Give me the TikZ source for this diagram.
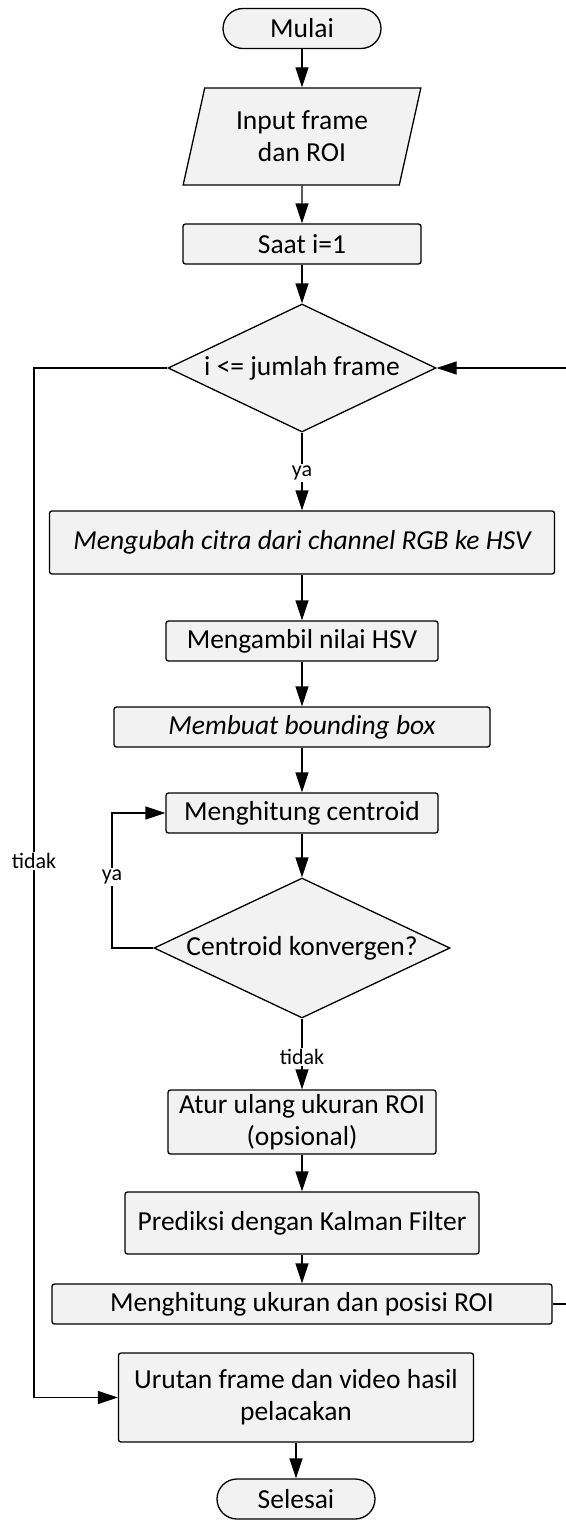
\documentclass[tikz,border=0pt]{standalone}
\usepackage{fontspec}
\setmainfont{Carlito}
\usetikzlibrary{shapes.geometric,arrows.meta}
\definecolor{boxfill}{HTML}{F2F2F2}
\tikzset{
  base/.style={draw, fill=boxfill, line width=1.3pt, inner sep=0pt, align=center},
  proc/.style={base, rounded corners=2.5pt},
  term/.style={base, rounded corners=20pt, minimum width=158pt, minimum height=40pt},
  io/.style={base, trapezium, trapezium left angle=74, trapezium right angle=106,
    trapezium stretches=true, minimum width=238pt, minimum height=97pt},
  dec/.style={base, diamond, shape aspect=2.1},
  arr/.style={line width=1.3pt, -{Triangle[length=20pt,width=13pt]}},
  lbl/.style={fill=white, inner sep=1.5pt, font=\fontsize{22}{26}\selectfont},
}
\begin{document}
\begin{tikzpicture}[x=1pt, y=-1pt, font=\fontsize{27.5}{32}\selectfont]
\useasboundingbox (0,0) rectangle (565,1520);

% main column
\node[term] (mulai) at (302,28.5) {Mulai};
\node[io] (input) at (302,136.5) {Input frame\\dan ROI};
\node[proc, minimum width=238pt, minimum height=40pt] (saat) at (302,244) {Saat i=1};
\node[dec, minimum width=268pt, minimum height=128pt] (cek) at (302,368) {i <= jumlah frame};
\node[proc, minimum width=505pt, minimum height=63pt] (hsv) at (302,542.5) {\itshape Mengubah citra dari channel RGB ke HSV};
\node[proc, minimum width=272pt, minimum height=40pt] (nilai) at (302,641) {Mengambil nilai HSV};
\node[proc, minimum width=376pt, minimum height=40pt] (bbox) at (302,727) {\itshape Membuat bounding box};
\node[proc, minimum width=272pt, minimum height=40pt] (cent) at (302,813) {Menghitung centroid};
\node[dec, minimum width=296pt, minimum height=140pt] (konv) at (302,948) {Centroid konvergen?};
\node[proc, minimum width=268pt, minimum height=64pt] (atur) at (302,1122) {Atur ulang ukuran ROI\\(opsional)};
\node[proc, minimum width=354pt, minimum height=62pt] (kalman) at (302,1223) {Prediksi dengan Kalman Filter};
\node[proc, minimum width=500pt, minimum height=40pt] (roi) at (302,1304) {Menghitung ukuran dan posisi ROI};
\node[proc, minimum width=355pt, minimum height=89pt] (hasil) at (296,1397.5) {Urutan frame dan video hasil\\pelacakan};
\node[term] (selesai) at (296,1499) {Selesai};

% loop corners
\coordinate (kiri) at (34,368);
\coordinate (kanan) at (568,1304);
\coordinate (ulang) at (112,948);

% straight flow
\draw[arr] (mulai) -- (input);
\draw[arr] (input) -- (saat);
\draw[arr] (saat) -- (cek);
\draw[arr] (cek) -- node[lbl, pos=0.52] {ya} (hsv);
\draw[arr] (hsv) -- (nilai);
\draw[arr] (nilai) -- (bbox);
\draw[arr] (bbox) -- (cent);
\draw[arr] (cent) -- (konv);
\draw[arr] (konv) -- node[lbl, pos=0.54] {tidak} (atur);
\draw[arr] (atur) -- (kalman);
\draw[arr] (kalman) -- (roi);
\draw[arr] (hasil) -- (selesai);

% loops
\draw[arr] (roi.east) -- (kanan) |- (cek.east);
\draw[arr] (cek.west) -- (kiri) |- (hasil.west);
\draw[arr] (konv.west) -- (ulang) |- (cent.west);

% branch labels on the loops
\node[lbl] (ltidak) at (34,861) {tidak};
\node[lbl] (lya) at (112,877) {ya};
\end{tikzpicture}
\end{document}
